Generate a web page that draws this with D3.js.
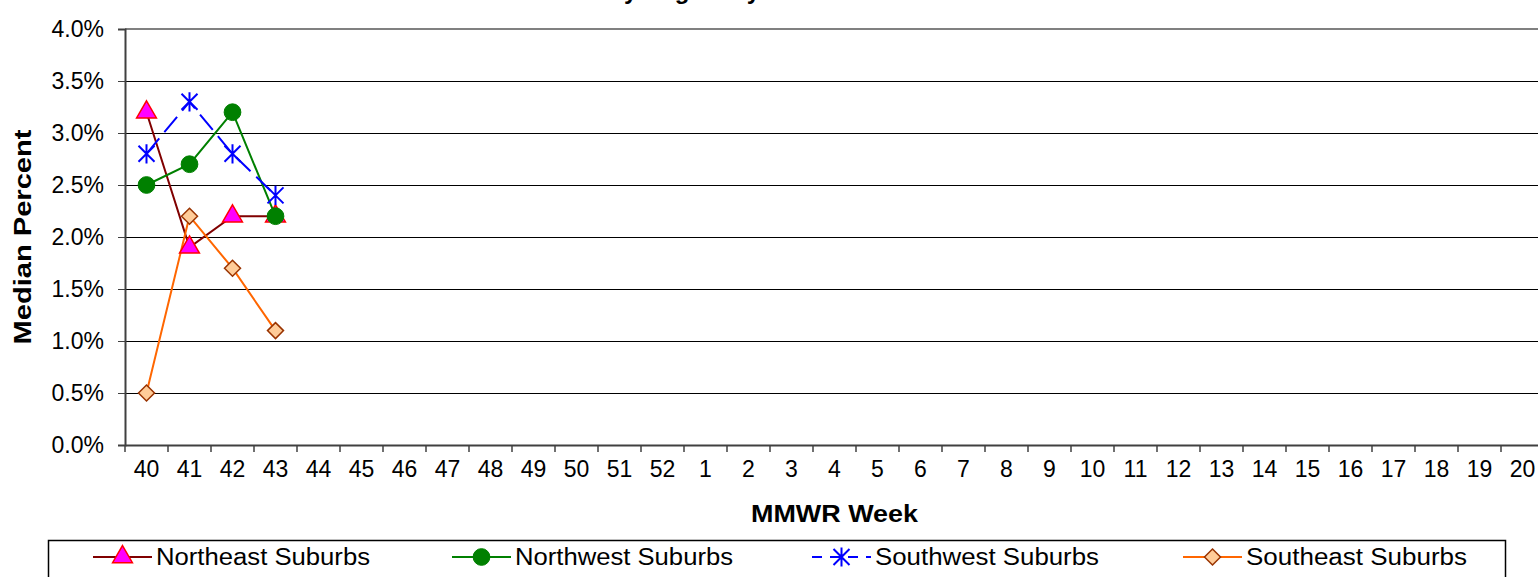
<!DOCTYPE html>
<html>
<head>
<meta charset="utf-8">
<script src="https://cdn.jsdelivr.net/npm/d3@7"></script>
<style>
  body { margin: 0; background: #fff; }
  svg { display: block; font-family: Arial, "Liberation Sans", sans-serif; }
</style>
</head>
<body>
<div id="chart"></div>
<script>
// DATA
var weeks = ["40","41","42","43","44","45","46","47","48","49","50","51","52",
             "1","2","3","4","5","6","7","8","9","10","11","12","13","14","15","16","17","18","19","20"];
var yTicks = [0, 0.005, 0.01, 0.015, 0.02, 0.025, 0.03, 0.035, 0.04];

var northeast = [0.032, 0.019, 0.022, 0.022];
var northwest = [0.025, 0.027, 0.032, 0.022];
var southwest = [0.028, 0.033, 0.028, 0.024];
var southeast = [0.005, 0.022, 0.017, 0.011];

var seriesNames = ["Northeast Suburbs", "Northwest Suburbs", "Southwest Suburbs", "Southeast Suburbs"];

// SETUP
var chartW = 1538, chartH = 577;
var plotLeft = 125, plotRight = 1544, plotTop = 29, plotBottom = 445;

var svg = d3.select("#chart").append("svg")
    .attr("width", chartW)
    .attr("height", chartH);

var x = d3.scaleBand().domain(weeks).range([plotLeft, plotRight]).padding(0);
var y = d3.scaleLinear().domain([0, 0.04]).range([plotBottom, plotTop]);

// title (mostly cut off at the top edge, as in the original)
svg.append("text")
    .attr("x", 560)
    .attr("y", -1)
    .attr("text-anchor", "middle")
    .style("font-size", "24px")
    .style("font-weight", "bold")
    .text("Median Percent of ILI Visits by Region by Week");

// gridlines
svg.append("g").selectAll("line")
    .data(yTicks.filter(function(d){ return d > 0 && d < 0.04; }))
    .enter().append("line")
    .attr("x1", plotLeft).attr("x2", chartW)
    .attr("y1", function(d){ return Math.round(y(d)) + 0.5; })
    .attr("y2", function(d){ return Math.round(y(d)) + 0.5; })
    .attr("stroke", "#000")
    .attr("stroke-width", 1);

// top border of plot area
svg.append("line")
    .attr("x1", plotLeft).attr("x2", chartW)
    .attr("y1", y(0.04)).attr("y2", y(0.04))
    .attr("stroke", "#808080").attr("stroke-width", 2);

// y axis
var yAxis = d3.axisLeft(y)
    .tickValues(yTicks)
    .tickSize(7)
    .tickPadding(14)
    .tickFormat(d3.format(".1%"));

var yg = svg.append("g")
    .attr("transform", "translate(" + plotLeft + ",0)")
    .call(yAxis);
yg.select(".domain").attr("stroke", "#404040").attr("stroke-width", 2);
yg.selectAll(".tick line").attr("stroke", "#404040");
yg.selectAll("text")
    .style("font-size", "23px")
    .style("font-family", "Arial, 'Liberation Sans', sans-serif")
    .attr("fill", "#000");

// x axis
var xAxis = d3.axisBottom(x).tickSize(0).tickPadding(16);
var xg = svg.append("g")
    .attr("transform", "translate(0," + plotBottom + ")")
    .call(xAxis);
xg.select(".domain").attr("stroke", "#404040").attr("stroke-width", 2);
xg.selectAll("text")
    .style("font-size", "23px")
    .style("font-family", "Arial, 'Liberation Sans', sans-serif")
    .attr("fill", "#000");

// x tick marks between categories
svg.append("g").selectAll("line")
    .data(weeks)
    .enter().append("line")
    .attr("x1", function(d){ return x(d); })
    .attr("x2", function(d){ return x(d); })
    .attr("y1", plotBottom).attr("y2", plotBottom + 7)
    .attr("stroke", "#404040").attr("stroke-width", 1.5);

// axis titles
svg.append("text")
    .attr("x", (plotLeft + plotRight) / 2)
    .attr("y", 522)
    .attr("text-anchor", "middle")
    .attr("textLength", 167)
    .attr("lengthAdjust", "spacingAndGlyphs")
    .style("font-size", "23px")
    .style("font-weight", "bold")
    .text("MMWR Week");

svg.append("text")
    .attr("transform", "translate(31,237) rotate(-90)")
    .attr("text-anchor", "middle")
    .attr("textLength", 215)
    .attr("lengthAdjust", "spacingAndGlyphs")
    .style("font-size", "23px")
    .style("font-weight", "bold")
    .text("Median Percent");

// MARKERS
function starPath(s){
  return "M" + (-s) + "," + (-s) + "L" + s + "," + s +
         "M" + (-s) + "," + s + "L" + s + "," + (-s) +
         "M0," + (-s * 1.2) + "L0," + (s * 1.2);
}
function diamondPath(s){
  return "M0," + (-s) + "L" + s + ",0L0," + s + "L" + (-s) + ",0Z";
}

var styles = [
  { data: northeast, line: "#800000", dash: null,
    shape: d3.symbol().type(d3.symbolTriangle).size(170)(), fill: "#FF00FF", stroke: "#FF0000", sw: 1.5 },
  { data: northwest, line: "#008000", dash: null,
    shape: d3.symbol().type(d3.symbolCircle).size(220)(), fill: "#008000", stroke: "#008000", sw: 1 },
  { data: southwest, line: "#0000FF", dash: "20,8",
    shape: starPath(8), fill: "none", stroke: "#0000FF", sw: 2 },
  { data: southeast, line: "#FF6600", dash: null,
    shape: diamondPath(8), fill: "#FFCC99", stroke: "#993300", sw: 1.5 }
];

var line = d3.line()
    .x(function(d, i){ return x(weeks[i]) + x.bandwidth() / 2; })
    .y(function(d){ return y(d); });

styles.forEach(function(s){
  svg.append("path")
      .datum(s.data)
      .attr("d", line)
      .attr("fill", "none")
      .attr("stroke", s.line)
      .attr("stroke-width", 2)
      .attr("stroke-dasharray", s.dash);
});

styles.forEach(function(s){
  svg.append("g").selectAll("path")
      .data(s.data)
      .enter().append("path")
      .attr("transform", function(d, i){
        return "translate(" + (x(weeks[i]) + x.bandwidth() / 2) + "," + y(d) + ")";
      })
      .attr("d", s.shape)
      .attr("fill", s.fill)
      .attr("stroke", s.stroke)
      .attr("stroke-width", s.sw);
});

// LEGEND
svg.append("rect")
    .attr("x", 48.5).attr("y", 540.5)
    .attr("width", 1457).attr("height", 60)
    .attr("fill", "#fff")
    .attr("stroke", "#000")
    .attr("stroke-width", 1.5);

var legendX = [93, 452, 812, 1183];
var legendLen = [214, 218, 224, 221];
var ly = 557;

styles.forEach(function(s, i){
  var g = svg.append("g").attr("transform", "translate(" + legendX[i] + "," + ly + ")");
  g.append("line")
      .attr("x1", 0).attr("x2", 59)
      .attr("y1", 0).attr("y2", 0)
      .attr("stroke", s.line)
      .attr("stroke-width", 2)
      .attr("stroke-dasharray", s.dash ? "10,8" : null);
  g.append("path")
      .attr("transform", "translate(29.5,0)")
      .attr("d", s.shape)
      .attr("fill", s.fill)
      .attr("stroke", s.stroke)
      .attr("stroke-width", s.sw);
  g.append("text")
      .attr("x", 63)
      .attr("y", 8)
      .attr("textLength", legendLen[i])
      .attr("lengthAdjust", "spacingAndGlyphs")
      .style("font-size", "23px")
      .text(seriesNames[i]);
});
</script>
</body>
</html>
